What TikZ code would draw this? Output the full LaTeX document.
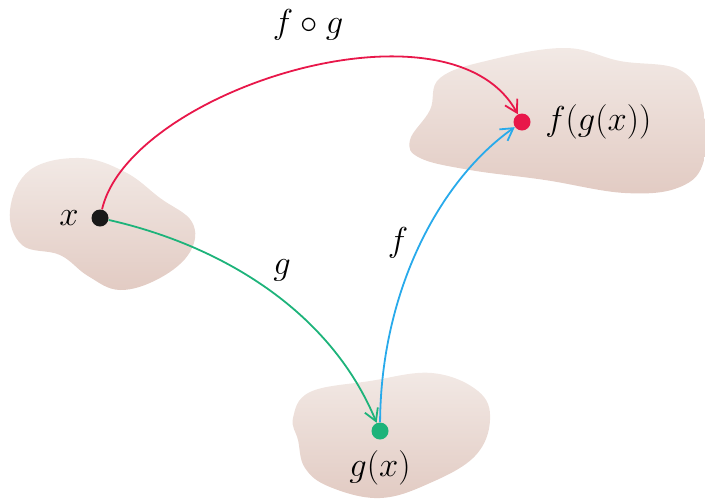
\documentclass[tikz,border=0pt]{standalone}
\usepackage{amsmath,amssymb}
\usepackage{xcolor}
\usetikzlibrary{arrows.meta,positioning,calc}

\definecolor{blobtop}{RGB}{242,233,229}
\definecolor{blobbot}{RGB}{226,203,195}
\definecolor{fogred}{RGB}{232,23,74}
\definecolor{ggreen}{RGB}{29,179,122}
\definecolor{fblue}{RGB}{40,170,235}

\begin{document}
\begin{tikzpicture}[x=0.5pt, y=-0.5pt, >={Straight Barb[length=6pt,width=7pt]},
  blob/.style={top color=blobtop, bottom color=blobbot, draw=none},
  pt/.style={circle, inner sep=0pt, minimum size=8.5pt},
  arr/.style={->, line width=0.9pt},
  lbl/.style={font=\fontsize{16}{19}\selectfont, inner sep=1pt}
]
\useasboundingbox (0,0) rectangle (705,499);

% Blobs
\shade[blob] plot[smooth cycle, tension=0.65] coordinates {
  (10,210) (30,170) (80,158) (125,172) (160,198) (192,222)
  (190,252) (160,278) (120,290) (88,276) (60,255) (22,245)};
\shade[blob] plot[smooth cycle, tension=0.65] coordinates {
  (410,140) (430,110) (440,78) (490,60) (565,48) (620,61) (680,70)
  (702,105) (704,160) (680,187) (625,193) (545,180) (470,170) (420,158)};
\shade[blob] plot[smooth cycle, tension=0.65] coordinates {
  (293,418) (310,392) (370,381) (432,373) (478,391) (490,420)
  (475,456) (430,483) (380,498) (330,487) (305,468) (298,440)};

% Points
\node[pt, fill=black!90] (x) at (100,218) {};
\node[pt, fill=fogred] (fgx) at (522,122) {};
\node[pt, fill=ggreen] (gx) at (380,431) {};

\node[lbl, left=5pt of x] {$x$};
\node[lbl, right=6pt of fgx] {$f(g(x))$};
\node[lbl, below=4pt of gx] {$g(x)$};

% Maps
\draw[arr, fogred] (x) .. controls (130,90) and (450,-10) .. (fgx);
\draw[arr, ggreen] (x) .. controls (220,245) and (330,310) .. (gx);
\draw[arr, fblue] (gx) .. controls (381,290) and (440,180) .. (fgx);

\node[lbl] (fog) at (308,25) {$f\circ g$};
\node[lbl] (g) at (282,270) {$g$};
\node[lbl] (f) at (398,243) {$f$};
\end{tikzpicture}
\end{document}
